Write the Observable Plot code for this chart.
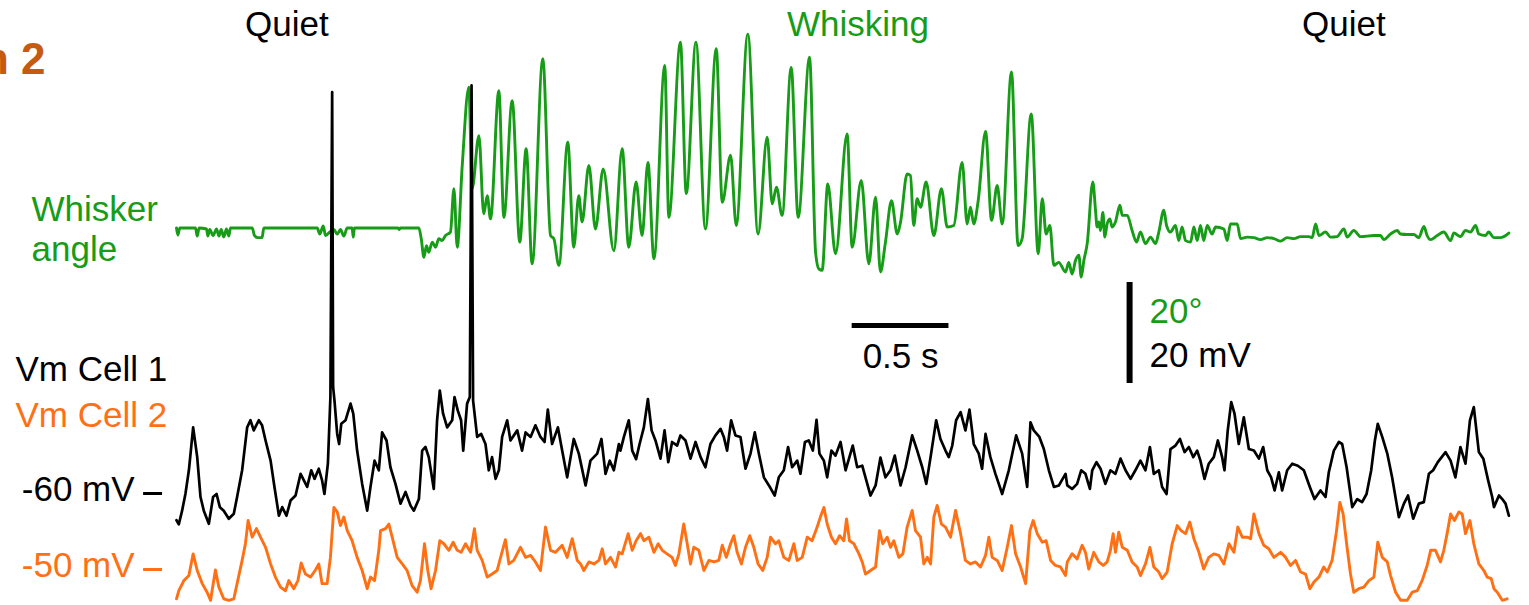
<!DOCTYPE html>
<html>
<head>
<meta charset="utf-8">
<script src="https://cdn.jsdelivr.net/npm/d3@7"></script>
<script src="https://cdn.jsdelivr.net/npm/@observablehq/plot@0.6"></script>
<style>
  html, body { margin: 0; padding: 0; background: #fff; }
  svg { display: block; }
</style>
</head>
<body>
<div id="chart"></div>
<script>
// ---- Recorded traces: [time (s), value] ----
// Whisker angle in degrees relative to the resting position
const whiskerAngle = [
  [0.000,0.1],[0.007,-1.3],[0.017,0.1],[0.098,0.1],[0.107,-1.5],[0.117,0.1],[0.155,-0.1],[0.162,-1.5],
  [0.172,-0.2],[0.189,-1.4],[0.207,-0.1],[0.219,-1.5],[0.231,-0.2],[0.244,-1.7],[0.258,-0.1],[0.270,-1.5],
  [0.279,0.1],[0.391,0.1],[0.403,-1.4],[0.420,-1.8],[0.442,-1.8],[0.451,0.1],[0.727,0.1],[0.740,-1.1],
  [0.758,0.5],[0.770,-1.4],[0.792,-0.7],[0.813,-0.2],[0.830,-1.1],[0.847,-0.2],[0.864,-1.5],[0.882,0.1],
  [0.907,0.1],[0.913,-1.7],[0.919,0.1],[1.143,0.1],[1.150,-0.2],[1.157,0.1],[1.243,0.1],
  [1.252,0.1],[1.264,-2.0],[1.278,-5.7],[1.291,-3.4],[1.303,-4.7],[1.321,-2.7],[1.338,-3.7],[1.355,-2.0],
  [1.372,-2.4],[1.389,-1.4],[1.415,-0.7],[1.433,7.9],[1.450,-3.7],[1.476,12.5],[1.510,28.0],[1.527,7.9],
  [1.562,18.4],[1.587,2.9],[1.605,6.5],[1.622,1.9],[1.665,27.3],[1.691,2.2],[1.734,25.3],[1.773,-2.7],
  [1.806,15.8],[1.837,-7.0],[1.892,33.6],[1.932,-1.4],[1.949,-2.0],[1.975,-7.3],[2.021,17.1],[2.052,-3.7],
  [2.078,6.5],[2.095,1.3],[2.130,12.5],[2.164,-0.1],[2.204,11.8],[2.259,-4.4],
  [2.302,15.8],[2.336,-3.7],[2.374,9.2],[2.405,-1.4],[2.435,13.1],[2.466,-6.0],[2.522,32.3],[2.543,2.2],
  [2.603,36.9],[2.633,6.9],[2.683,36.9],[2.732,-0.1],[2.788,35.6],[2.819,5.2],[2.862,14.5],[2.891,0.6],
  [2.951,38.5],[3.004,-1.1],[3.051,18.1],[3.077,4.9],[3.099,8.2],[3.128,2.6],[3.175,31.9],[3.211,2.2],
  [3.270,33.9],[3.301,-4.7],[3.318,-8.0],[3.335,-8.3],[3.364,8.8],[3.404,-5.0],[3.464,18.7],[3.490,-3.7],
  [3.537,9.5],[3.576,-7.0],[3.611,6.2],[3.636,-8.6],[3.662,-2.7],[3.693,5.5],[3.723,-1.1],[3.740,1.3],
  [3.774,10.8],[3.791,10.5],[3.808,0.6],[3.826,5.9],[3.843,4.2],[3.872,9.2],[3.912,-1.4],[3.951,7.9],
  [3.981,0.3],[4.015,0.6],[4.058,13.1],[4.084,0.9],[4.101,4.2],[4.118,0.9],[4.141,5.5],[4.179,19.2],
  [4.210,1.6],[4.239,8.5],[4.265,0.9],[4.313,31.0],[4.347,-3.4],[4.368,-2.0],[4.415,22.7],[4.451,-5.0],
  [4.472,5.9],[4.492,-1.1],[4.511,0.6],[4.532,-7.3],[4.557,-6.7],[4.592,-8.6],
  [4.609,-6.7],[4.626,-9.0],[4.644,-6.3],[4.661,-5.3],[4.673,-9.6],[4.687,-6.3],[4.704,-3.0],[4.733,9.2],
  [4.747,3.6],[4.755,0.3],[4.764,1.3],[4.773,-0.4],[4.785,3.2],[4.795,-1.7],[4.807,0.9],[4.821,1.9],
  [4.833,0.3],[4.850,1.3],[4.873,4.6],[4.885,2.6],[4.911,2.6],[4.936,-0.4],[4.959,-2.7],[4.979,-0.7],
  [5.005,-3.0],[5.031,-1.7],[5.057,-3.0],[5.074,-0.7],[5.100,3.6],[5.114,0.6],[5.134,-0.7],[5.160,0.6],
  [5.177,-2.4],[5.194,0.3],[5.212,-2.4],[5.238,-2.7],[5.255,0.3],[5.272,-2.4],[5.289,0.6],[5.306,-2.4],
  [5.324,0.6],[5.349,-1.1],[5.367,0.3],[5.410,-0.1],[5.427,-2.4],[5.444,0.9],[5.479,0.9],[5.496,-2.0],
  [5.531,-1.7],[5.565,-1.8],[5.599,-2.2],[5.634,-1.8],[5.668,-2.0],[5.703,-2.5],[5.737,-1.8],[5.772,-2.0],
  [5.806,-1.6],[5.849,-1.6],[5.866,-1.8],[5.884,0.9],[5.901,-1.4],[5.935,-0.7],[5.961,-1.7],[5.995,-1.6],
  [6.030,-0.1],[6.047,-1.7],[6.081,-0.4],[6.116,-1.6],[6.185,-1.4],[6.219,-1.4],[6.236,-2.2],[6.271,-1.1],
  [6.305,-0.4],[6.322,-1.1],[6.357,-1.2],[6.391,-1.2],[6.417,-1.8],[6.443,0.4],[6.460,-1.4],[6.477,-2.2],
  [6.512,-1.4],[6.546,-0.7],[6.581,-2.4],[6.598,-0.9],[6.632,-1.6],[6.658,-0.4],[6.684,-0.7],[6.710,0.6],
  [6.727,-1.1],[6.761,-1.4],[6.778,-0.7],[6.804,-1.8],[6.839,-1.8],[6.856,-1.6],[6.882,-0.9]
];

// Membrane potential of cell 1 (mV), two action potentials included
const vmCell1 = [
  [0.000,-65.3],[0.012,-66.1],[0.029,-63.4],[0.046,-60.1],[0.064,-55.4],[0.086,-46.9],[0.107,-52.8],[0.124,-60.7],
  [0.141,-63.4],[0.167,-66.0],[0.189,-60.7],[0.207,-60.1],[0.224,-62.7],[0.244,-63.4],[0.270,-65.0],[0.296,-64.0],
  [0.313,-60.7],[0.339,-55.4],[0.365,-46.9],[0.382,-45.5],[0.399,-47.5],[0.425,-45.5],[0.442,-46.5],[0.460,-49.5],
  [0.486,-53.5],[0.506,-58.7],[0.529,-64.4],[0.546,-62.7],[0.568,-64.4],[0.589,-61.4],[0.615,-60.4],[0.641,-56.1],
  [0.658,-57.4],[0.675,-58.7],[0.696,-55.4],[0.713,-57.1],[0.735,-55.1],[0.752,-57.4],[0.764,-60.1],[0.782,-54.1],
  [0.795,-40.9],[0.804,19.5],[0.809,-38.9],[0.816,-41.6],[0.830,-48.2],[0.840,-50.2],[0.851,-46.2],[0.873,-45.5],
  [0.899,-42.2],[0.913,-44.2],[0.933,-51.5],[0.959,-58.1],[0.985,-63.4],[1.002,-58.7],[1.023,-53.5],[1.045,-55.4],
  [1.062,-47.9],[1.085,-49.5],[1.105,-54.8],[1.131,-58.1],[1.157,-62.0],[1.183,-59.7],[1.209,-62.4],[1.226,-63.4],
  [1.252,-61.1],[1.269,-51.5],[1.286,-50.8],[1.303,-52.8],[1.329,-59.1],[1.346,-45.5],[1.360,-39.6],[1.377,-44.2],
  [1.398,-46.9],[1.424,-45.5],[1.436,-40.9],[1.453,-43.6],[1.470,-45.5],[1.481,-51.5],[1.501,-42.2],[1.515,-40.9],
  [1.524,20.8],[1.532,-41.6],[1.553,-48.8],[1.574,-48.2],[1.596,-50.2],[1.613,-55.4],[1.630,-52.8],[1.648,-57.1],
  [1.665,-55.4],[1.682,-48.8],[1.708,-45.5],[1.725,-49.5],[1.760,-47.5],[1.785,-51.5],[1.803,-47.9],[1.829,-48.8],
  [1.854,-46.5],[1.880,-48.8],[1.901,-49.8],[1.918,-43.4],[1.940,-50.2],[1.970,-46.9],[1.992,-51.5],[2.018,-56.8],
  [2.052,-49.2],[2.078,-52.1],[2.113,-58.4],[2.138,-53.5],[2.173,-52.1],[2.195,-49.2],[2.216,-56.1],[2.238,-53.5],
  [2.259,-55.4],[2.285,-50.2],
  [2.293,-51.5],[2.311,-48.8],[2.336,-45.5],[2.354,-51.5],[2.374,-53.2],[2.392,-50.2],[2.414,-46.9],[2.435,-41.3],
  [2.454,-47.5],[2.474,-49.5],[2.500,-53.1],[2.521,-47.5],[2.540,-53.8],[2.560,-49.8],[2.586,-50.5],[2.603,-48.5],
  [2.629,-49.5],[2.655,-53.1],[2.681,-49.8],[2.707,-52.8],[2.732,-54.8],[2.758,-50.2],[2.784,-48.5],[2.810,-47.2],
  [2.827,-48.8],[2.844,-51.5],[2.865,-45.5],[2.887,-48.5],[2.913,-48.8],[2.939,-55.1],[2.965,-52.1],[2.987,-47.9],
  [3.008,-52.1],[3.034,-56.8],[3.060,-58.4],[3.090,-60.4],[3.111,-56.8],[3.137,-55.4],[3.159,-50.8],[3.180,-54.8],
  [3.206,-53.5],[3.223,-56.1],[3.246,-49.8],[3.266,-49.5],[3.287,-51.5],[3.306,-45.4],[3.321,-52.1],[3.344,-53.5],
  [3.361,-56.8],[3.383,-51.5],[3.404,-52.5],[3.430,-49.8],[3.456,-55.4],[3.493,-50.5],[3.516,-54.8],[3.542,-54.5],
  [3.568,-58.1],[3.585,-60.4],[3.611,-58.4],[3.636,-52.9],[3.662,-56.8],[3.688,-55.4],[3.710,-52.5],[3.740,-58.4],
  [3.766,-54.8],[3.800,-48.5],[3.826,-51.5],[3.852,-54.8],[3.873,-58.1],[3.895,-52.8],[3.924,-45.5],[3.946,-49.2],
  [3.972,-51.5],[3.989,-52.8],[4.007,-50.5],[4.027,-45.5],[4.050,-43.9],[4.075,-47.5],[4.096,-43.4],[4.118,-50.2],
  [4.144,-52.1],[4.161,-55.1],[4.179,-48.2],[4.204,-52.8],[4.230,-56.1],[4.265,-60.1],[4.299,-55.4],[4.337,-48.5],
  [4.368,-52.1],[4.394,-58.7],[4.411,-45.9],[4.428,-47.5],[4.457,-48.8],[4.480,-51.2],[4.506,-55.4],[4.532,-58.7],
  [4.558,-58.4],[4.592,-56.1],
  [4.601,-58.4],[4.626,-59.1],[4.652,-58.1],[4.673,-55.4],[4.695,-56.1],[4.718,-59.1],[4.730,-55.4],[4.752,-53.8],
  [4.773,-55.1],[4.798,-58.1],[4.824,-55.4],[4.850,-56.1],[4.876,-53.1],[4.902,-55.4],[4.928,-57.1],[4.953,-55.4],
  [4.979,-53.5],[5.005,-55.4],[5.028,-50.8],[5.048,-56.1],[5.074,-55.4],[5.091,-58.7],[5.114,-60.1],[5.134,-51.2],
  [5.160,-50.5],[5.183,-49.2],[5.207,-51.8],[5.229,-50.8],[5.252,-52.8],[5.272,-51.5],[5.289,-53.5],[5.310,-57.1],
  [5.332,-54.1],[5.358,-52.8],[5.379,-49.5],[5.401,-52.8],[5.413,-55.4],[5.430,-47.5],[5.448,-41.9],[5.465,-44.2],
  [5.487,-50.2],[5.513,-44.9],[5.539,-51.2],[5.565,-51.5],[5.591,-53.1],[5.613,-50.8],[5.634,-55.4],[5.654,-56.8],
  [5.672,-59.4],[5.694,-55.8],[5.711,-59.4],[5.737,-55.4],[5.763,-54.1],[5.792,-54.5],[5.823,-55.4],[5.854,-58.7],
  [5.878,-61.1],[5.909,-59.4],[5.935,-60.7],[5.952,-55.8],[5.978,-51.5],[6.004,-49.8],[6.021,-50.2],[6.044,-54.8],
  [6.073,-62.7],[6.099,-61.1],[6.124,-61.7],[6.147,-60.1],[6.171,-55.4],[6.190,-49.5],[6.205,-46.2],[6.228,-48.8],
  [6.254,-52.1],[6.279,-56.8],[6.314,-64.7],[6.340,-62.0],[6.361,-60.4],[6.388,-65.0],[6.417,-62.0],[6.443,-61.7],
  [6.469,-56.1],[6.491,-55.4],[6.515,-53.8],[6.555,-51.8],[6.581,-53.5],[6.606,-56.8],[6.632,-50.8],[6.658,-54.1],
  [6.681,-45.5],[6.701,-42.9],[6.727,-51.8],[6.750,-53.1],[6.775,-57.4],[6.796,-60.7],[6.805,-62.7],[6.831,-60.4],
  [6.848,-61.1],[6.865,-62.0],[6.882,-64.4]
];

// Membrane potential of cell 2 (mV)
const vmCell2 = [
  [0.000,-55.8],[0.012,-54.2],[0.038,-52.2],[0.064,-51.2],[0.086,-46.9],[0.107,-50.2],[0.133,-52.8],[0.158,-54.5],
  [0.176,-56.1],[0.201,-50.1],[0.219,-53.5],[0.244,-55.8],[0.270,-56.1],[0.296,-55.8],[0.313,-52.8],[0.339,-48.2],
  [0.356,-44.9],[0.370,-40.3],[0.391,-43.6],[0.413,-41.9],[0.434,-43.6],[0.460,-45.6],[0.486,-48.9],[0.511,-51.5],
  [0.537,-53.5],[0.563,-54.2],[0.580,-52.2],[0.606,-53.8],[0.627,-52.2],[0.644,-48.7],[0.666,-50.9],[0.692,-51.5],
  [0.718,-50.1],[0.735,-48.9],[0.752,-52.8],[0.778,-52.8],[0.795,-47.6],[0.813,-37.7],[0.830,-38.6],[0.847,-41.3],
  [0.864,-39.6],[0.882,-42.3],[0.907,-44.3],[0.933,-47.6],[0.959,-50.2],[0.985,-53.8],[1.002,-51.5],[1.023,-52.2],
  [1.045,-46.2],[1.054,-42.3],[1.080,-41.9],[1.097,-41.0],[1.114,-43.6],[1.140,-47.6],[1.166,-48.9],[1.191,-50.2],
  [1.217,-53.2],[1.243,-54.5],[1.260,-52.2],[1.281,-44.9],[1.298,-50.2],[1.315,-53.8],[1.338,-50.2],[1.360,-44.3],
  [1.381,-44.9],[1.407,-46.2],[1.429,-44.6],[1.450,-46.2],[1.470,-46.6],[1.493,-44.9],[1.519,-46.6],[1.539,-41.9],
  [1.553,-46.2],[1.579,-48.2],[1.605,-51.5],[1.630,-50.9],[1.656,-50.2],[1.674,-47.6],[1.699,-44.1],[1.717,-48.9],
  [1.742,-48.2],[1.777,-45.6],[1.803,-47.6],[1.829,-47.2],[1.854,-48.5],[1.880,-50.2],[1.906,-41.6],[1.932,-46.2],
  [1.958,-46.6],[1.992,-45.2],[2.018,-47.6],[2.044,-43.9],[2.070,-48.2],[2.087,-48.9],[2.104,-50.2],[2.130,-48.5],
  [2.156,-48.9],[2.182,-48.2],[2.199,-45.9],[2.216,-48.9],[2.242,-47.6],[2.268,-49.5],[2.285,-46.6],
  [2.302,-46.9],[2.333,-42.9],[2.354,-46.2],[2.374,-44.3],[2.397,-42.9],[2.414,-44.3],[2.440,-43.6],[2.466,-46.6],
  [2.488,-44.9],[2.509,-46.2],[2.534,-46.9],[2.560,-47.6],[2.577,-49.2],[2.595,-46.9],[2.620,-41.0],[2.638,-44.9],
  [2.655,-48.9],[2.672,-45.6],[2.698,-46.2],[2.724,-50.2],[2.750,-48.2],[2.776,-48.5],[2.801,-48.2],[2.819,-45.2],
  [2.840,-47.6],[2.862,-44.9],[2.879,-43.3],[2.896,-46.6],[2.918,-48.9],[2.939,-45.6],[2.961,-43.3],[2.982,-45.6],
  [3.004,-48.9],[3.028,-50.2],[3.051,-47.6],[3.068,-43.6],[3.094,-44.9],[3.111,-44.3],[3.137,-47.6],[3.163,-48.2],
  [3.189,-44.9],[3.206,-48.2],[3.232,-47.6],[3.258,-43.6],[3.283,-44.3],[3.309,-41.6],[3.326,-39.6],[3.344,-37.7],
  [3.361,-41.0],[3.383,-43.6],[3.404,-44.9],[3.425,-43.3],[3.447,-44.3],[3.461,-40.0],[3.476,-44.3],[3.499,-44.9],
  [3.525,-46.9],[3.542,-48.5],[3.559,-50.9],[3.585,-50.2],[3.611,-49.5],[3.631,-42.3],[3.648,-44.9],[3.671,-43.6],
  [3.688,-45.6],[3.705,-44.3],[3.731,-47.6],[3.752,-46.9],[3.774,-41.6],[3.800,-38.3],[3.817,-42.3],[3.843,-43.6],
  [3.860,-48.9],[3.878,-47.6],[3.895,-48.9],[3.912,-39.6],[3.929,-37.3],[3.951,-41.0],[3.972,-41.6],[3.998,-43.6],
  [4.024,-38.3],[4.050,-42.9],[4.075,-48.2],[4.101,-48.9],[4.127,-48.5],[4.153,-49.5],[4.179,-47.2],[4.196,-43.6],
  [4.213,-47.6],[4.239,-48.2],[4.265,-50.2],[4.291,-45.6],[4.313,-41.3],[4.334,-46.9],[4.360,-49.5],[4.386,-52.8],
  [4.408,-42.3],[4.425,-40.3],[4.446,-42.9],[4.472,-44.6],[4.492,-44.3],[4.515,-48.2],[4.540,-49.2],[4.566,-49.5],
  [4.592,-51.2],
  [4.601,-48.5],[4.626,-46.9],[4.652,-47.9],[4.678,-45.2],[4.695,-46.6],[4.712,-49.9],[4.738,-46.6],[4.764,-48.5],
  [4.787,-49.2],[4.807,-48.5],[4.824,-46.2],[4.838,-42.9],[4.850,-46.6],[4.867,-42.6],[4.885,-45.6],[4.911,-46.2],
  [4.936,-48.5],[4.962,-49.5],[4.979,-51.2],[5.005,-48.9],[5.028,-45.6],[5.048,-49.5],[5.074,-50.5],[5.091,-51.8],
  [5.117,-50.5],[5.143,-44.9],[5.169,-41.3],[5.189,-42.3],[5.212,-42.9],[5.234,-40.6],[5.255,-43.9],[5.281,-46.6],
  [5.306,-49.9],[5.332,-47.6],[5.358,-46.9],[5.384,-47.2],[5.410,-48.9],[5.436,-44.9],[5.462,-46.6],[5.482,-41.6],
  [5.505,-43.6],[5.531,-43.6],[5.548,-43.9],[5.565,-39.0],[5.591,-42.9],[5.616,-45.2],[5.642,-45.9],[5.668,-47.6],
  [5.703,-46.6],[5.729,-47.6],[5.754,-49.2],[5.780,-48.2],[5.806,-50.5],[5.832,-50.9],[5.854,-53.8],[5.875,-52.5],
  [5.901,-51.5],[5.926,-49.5],[5.944,-50.5],[5.969,-48.2],[5.992,-42.3],[6.009,-36.7],[6.026,-39.0],[6.044,-44.9],
  [6.064,-50.9],[6.081,-54.5],[6.107,-53.8],[6.133,-53.5],[6.159,-52.2],[6.185,-51.5],[6.205,-44.6],[6.228,-47.6],
  [6.254,-48.5],[6.271,-51.2],[6.297,-54.5],[6.323,-56.1],[6.357,-56.1],[6.383,-54.5],[6.409,-54.2],[6.434,-52.2],
  [6.460,-49.2],[6.478,-46.2],[6.503,-46.2],[6.529,-48.5],[6.546,-46.2],[6.563,-42.9],[6.581,-39.0],[6.601,-40.3],
  [6.624,-38.6],[6.641,-39.0],[6.658,-42.9],[6.681,-40.3],[6.701,-44.9],[6.727,-48.9],[6.753,-50.2],[6.770,-51.5],
  [6.791,-51.8],[6.805,-53.8],[6.822,-54.5],[6.848,-56.1],[6.873,-55.8]
];

// Behavioural epochs and the time each label is centred on (s)
const epochNames = ["Quiet", "Whisking", "Quiet"];
const epochLabelTimes = [0.57, 3.52, 6.03];

// Reference levels marked next to the membrane traces (mV)
const cell1Level = -60;
const cell2Level = -50;

// Scale bars
const timeBarSeconds = 0.5;
const ampBarUnits = 20;

// ---- Layout ----
const WIDTH = 1529, HEIGHT = 605;
const PX_PER_S = 193.6;     // horizontal: seconds -> pixels
const PX_PER_UNIT = 5.05;   // vertical: 1 mV or 1 degree -> pixels
const TRACE_LEFT = 176;
const T_END = 6.89;
const GREEN = "#169c16", ORANGE = "#ff7014", BROWN = "#c55a11";
const FONT = "'Liberation Sans', Arial, Helvetica, sans-serif";

// each trace is drawn in its own row; the row pixel gives the height of its reference level
const rows = {
  whisker: {px: 228, ref: 0},
  cell1: {px: 493, ref: cell1Level},
  cell2: {px: 569, ref: cell2Level}
};
const lift = k => (HEIGHT - rows[k].px) / PX_PER_UNIT - rows[k].ref;
const toRows = (pairs, k) => pairs.map(([t, v]) => ({t, y: v + lift(k)}));

// scale-bar placement (time in s, height in display units)
const timeBarStart = 3.49;
const timeBarLevel = (HEIGHT - 325) / PX_PER_UNIT;
const ampBarTime = 4.923;
const ampBarBottom = (HEIGHT - 383) / PX_PER_UNIT;

// level ticks sit just left of the traces
const tickFrom = -0.17, tickTo = -0.072;

const levels = [
  {label: "-60 mV", y: cell1Level + lift("cell1"), color: "black"},
  {label: "-50 mV", y: cell2Level + lift("cell2"), color: ORANGE}
];
const epochs = epochNames.map((name, i) => ({name, t: epochLabelTimes[i], color: name === "Whisking" ? GREEN : "black"}));

const corner = (text, dx, dy, opts = {}) =>
  Plot.text([text], {frameAnchor: "top-left", dx, dy, lineAnchor: "bottom", textAnchor: "start",
                     fontSize: 35, fill: "black", fontFamily: FONT, ...opts});

const chart = Plot.plot({
  width: WIDTH,
  height: HEIGHT,
  marginTop: 0, marginRight: 0, marginBottom: 0, marginLeft: 0,
  style: {background: "#fff", fontFamily: FONT},
  x: {domain: [0, T_END], range: [TRACE_LEFT, TRACE_LEFT + T_END * PX_PER_S], axis: null},
  y: {domain: [0, HEIGHT / PX_PER_UNIT], range: [HEIGHT, 0], axis: null},
  color: {type: "identity"},
  marks: [
    // traces
    Plot.line(toRows(whiskerAngle, "whisker"), {x: "t", y: "y", stroke: GREEN, strokeWidth: 2.9,
                                                 curve: "monotone-x", strokeLinejoin: "round"}),
    Plot.line(toRows(vmCell2, "cell2"), {x: "t", y: "y", stroke: ORANGE, strokeWidth: 2.9, strokeLinejoin: "round"}),
    Plot.line(toRows(vmCell1, "cell1"), {x: "t", y: "y", stroke: "black", strokeWidth: 2.7, strokeLinejoin: "round"}),

    // level ticks and their labels
    Plot.ruleY(levels, {y: "y", x1: tickFrom, x2: tickTo, stroke: "color", strokeWidth: 3}),
    Plot.text(levels, {x: tickFrom, y: "y", text: "label", fill: "color", textAnchor: "end", lineAnchor: "bottom",
                       dx: -9, dy: 7, fontSize: 35, fontFamily: FONT}),

    // epoch labels
    Plot.text(epochs, {x: "t", text: "name", fill: "color", frameAnchor: "top", dy: 35, lineAnchor: "bottom",
                       textAnchor: "middle", fontSize: 35, fontFamily: FONT}),

    // scale bars
    Plot.ruleY([timeBarLevel], {x1: timeBarStart, x2: timeBarStart + timeBarSeconds, stroke: "black", strokeWidth: 5}),
    Plot.text(["0.5 s"], {x: timeBarStart + timeBarSeconds / 2, y: timeBarLevel, dy: 42, lineAnchor: "bottom",
                          textAnchor: "middle", fontSize: 35, fontFamily: FONT, fill: "black"}),
    Plot.ruleX([ampBarTime], {y1: ampBarBottom, y2: ampBarBottom + ampBarUnits, stroke: "black", strokeWidth: 6}),
    Plot.text(["20°"], {x: ampBarTime, y: ampBarBottom + ampBarUnits, dx: 20, dy: 40, lineAnchor: "bottom",
                        textAnchor: "start", fontSize: 35, fontFamily: FONT, fill: GREEN}),
    Plot.text(["20 mV"], {x: ampBarTime, y: ampBarBottom + ampBarUnits, dx: 20, dy: 84, lineAnchor: "bottom",
                          textAnchor: "start", fontSize: 35, fontFamily: FONT, fill: "black"}),

    // row labels
    corner("Whisker", 31, 220, {fill: GREEN}),
    corner("angle", 31, 260, {fill: GREEN}),
    corner("Vm Cell 1", 15, 380),
    corner("Vm Cell 2", 15, 426, {fill: ORANGE}),

    // panel tag, partly cut by the left edge
    Plot.text(["n 2"], {frameAnchor: "top-left", dx: 45, dy: 73, lineAnchor: "bottom", textAnchor: "end",
                        fontSize: 44, fontWeight: "bold", fill: BROWN, fontFamily: FONT})
  ]
});

document.getElementById("chart").appendChild(chart);
</script>
</body>
</html>
